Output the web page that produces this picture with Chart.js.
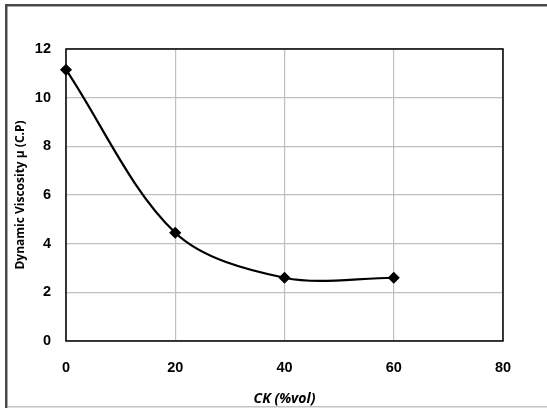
<!DOCTYPE html>
<html>
<head>
<meta charset="utf-8">
<script src="https://cdn.jsdelivr.net/npm/chart.js@4"></script>
<style>
  html, body { margin: 0; padding: 0; background: #fff; }
  canvas { display: block; }
</style>
</head>
<body>
<canvas id="chart-viscosity" width="547" height="408"></canvas>
<script>
// values
const ckPercent = [0, 20, 40, 60];
const viscosity = [11.15, 4.45, 2.6, 2.6];
const xTicks = [0, 20, 40, 60, 80];
const yTicks = [0, 2, 4, 6, 8, 10, 12];

const frame = {
  id: "frame",
  afterDraw(chart) {
    const ctx = chart.ctx;
    ctx.save();
    ctx.fillStyle = "#4a4a4a";
    ctx.fillRect(5, 4, 2.5, 404);
    ctx.fillRect(5, 4, 542, 2.5);
    ctx.fillStyle = "#c4c4c4";
    ctx.fillRect(8, 406, 539, 1.5);
    // plot border
    const a = chart.chartArea;
    ctx.strokeStyle = "#000";
    ctx.lineWidth = 1.5;
    ctx.strokeRect(a.left, a.top, a.right - a.left, a.bottom - a.top);
    ctx.restore();
  },
};

const ctx = document.getElementById("chart-viscosity").getContext("2d");
new Chart(ctx, {
  type: "scatter",
  data: {
    datasets: [
      {
        data: ckPercent.map((x, i) => ({ x: x, y: viscosity[i] })),
        showLine: true,
        borderColor: "#000",
        backgroundColor: "#000",
        borderWidth: 2.2,
        tension: 0.33,
        pointStyle: "rectRot",
        pointRadius: 4.5,
        pointHoverRadius: 4.5,
        clip: false,
      },
    ],
  },
  options: {
    responsive: false,
    animation: false,
    layout: { padding: { left: 0, right: 44, top: 49, bottom: 0 } },
    plugins: { legend: { display: false }, tooltip: { enabled: false } },
    scales: {
      x: {
        type: "linear",
        min: 0,
        max: 80,
        afterBuildTicks: (s) => { s.ticks = xTicks.map((v) => ({ value: v })); },
        afterFit: (s) => { s.height = 67; },
        grid: { color: "#c0c0c0", lineWidth: 1.2, drawTicks: false },
        border: { display: false },
        ticks: {
          color: "#000",
          padding: 18,
          autoSkip: false,
          maxRotation: 0,
          font: { family: "'Liberation Sans', Arial", size: 14.5, weight: "bold" },
        },
        title: {
          display: true,
          text: "CK (%vol)",
          color: "#000",
          padding: { top: 0, bottom: 1 },
          font: { family: "'Open Sans'", size: 14, weight: "bold", style: "italic" },
        },
      },
      y: {
        type: "linear",
        min: 0,
        max: 12,
        afterBuildTicks: (s) => { s.ticks = yTicks.map((v) => ({ value: v })); },
        afterFit: (s) => { s.width = 66; },
        grid: { color: "#c0c0c0", lineWidth: 1.2, drawTicks: false },
        border: { display: false },
        ticks: {
          color: "#000",
          padding: 15,
          autoSkip: false,
          font: { family: "'Liberation Sans', Arial", size: 14.5, weight: "bold" },
        },
        title: {
          display: true,
          text: "Dynamic Viscosity μ (C.P)",
          color: "#000",
          padding: { top: 13, bottom: 0 },
          font: { family: "'Liberation Sans Narrow', 'Open Sans'", size: 12, weight: "bold" },
        },
      },
    },
  },
  plugins: [frame],
});
</script>
</body>
</html>
